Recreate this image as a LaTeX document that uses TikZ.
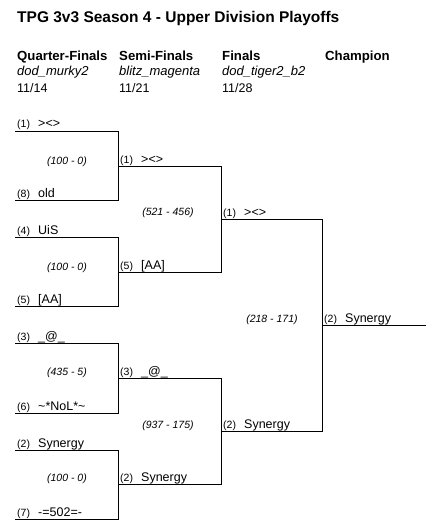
\documentclass[tikz,border=0pt]{standalone}
\usepackage{fontspec}
\setmainfont{Liberation Sans}
\newcommand\bracketentry[5]{%
  \node[seedtxt] (#1s) at (#2+2,#3-3) {(#4)};
  \node[teamtxt] (#1t) at (#2+23,#3-3) {#5};}
\begin{document}
\begin{tikzpicture}[x=1pt,y=-1pt,
  titletxt/.style={anchor=base west,inner sep=0pt,font=\bfseries\fontsize{15.5}{17}\selectfont},
  hdrtxt/.style={anchor=base west,inner sep=0pt,font=\bfseries\fontsize{13.2}{15}\selectfont},
  maptxt/.style={anchor=base west,inner sep=0pt,font=\itshape\fontsize{13}{15}\selectfont},
  datetxt/.style={anchor=base west,inner sep=0pt,font=\fontsize{12.5}{14}\selectfont},
  seedtxt/.style={anchor=base west,inner sep=0pt,font=\fontsize{10.5}{12}\selectfont},
  teamtxt/.style={anchor=base west,inner sep=0pt,font=\fontsize{12.5}{14}\selectfont},
  scoretxt/.style={anchor=center,inner sep=0pt,font=\itshape\fontsize{10.5}{12}\selectfont},
  bline/.style={draw=black,line width=1pt}]
\useasboundingbox (0,0) rectangle (446,524);

% header
\node[titletxt] (title) at (17,23) {TPG 3v3 Season 4 - Upper Division Playoffs};
\node[hdrtxt] (h1) at (17,61) {Quarter-Finals};
\node[hdrtxt] (h2) at (119,61) {Semi-Finals};
\node[hdrtxt] (h3) at (222,61) {Finals};
\node[hdrtxt] (h4) at (325,61) {Champion};
\node[maptxt] (m1) at (17,76) {dod\_murky2};
\node[maptxt] (m2) at (119,76) {blitz\_magenta};
\node[maptxt] (m3) at (222,76) {dod\_tiger2\_b2};
\node[datetxt] (d1) at (17,93) {11/14};
\node[datetxt] (d2) at (119,93) {11/21};
\node[datetxt] (d3) at (222,93) {11/28};

% coordinates of lines
\foreach \n/\y in {1/131,2/200,3/237,4/306,5/343,6/413,7/450,8/519}{
  \coordinate (q\n l) at (15,\y); \coordinate (q\n r) at (118,\y);}
\foreach \n/\y in {1/166,2/272,3/378,4/484}{
  \coordinate (s\n l) at (118,\y); \coordinate (s\n r) at (221,\y);}
\foreach \n/\y in {1/219,2/431}{
  \coordinate (f\n l) at (221,\y); \coordinate (f\n r) at (322,\y);}
\coordinate (cl) at (322,325); \coordinate (cr) at (426,325);

% bracket lines
\draw[bline] (q1l) -- (q1r) -- (q2r) -- (q2l);
\draw[bline] (q3l) -- (q3r) -- (q4r) -- (q4l);
\draw[bline] (q5l) -- (q5r) -- (q6r) -- (q6l);
\draw[bline] (q7l) -- (q7r) -- (q8r) -- (q8l);
\draw[bline] (s1l) -- (s1r) -- (s2r) -- (s2l);
\draw[bline] (s3l) -- (s3r) -- (s4r) -- (s4l);
\draw[bline] (f1l) -- (f1r) -- (f2r) -- (f2l);
\draw[bline] (cl) -- (cr);

% entries
\bracketentry{qa}{15}{131}{1}{><>}
\bracketentry{qb}{15}{200}{8}{old}
\bracketentry{qc}{15}{237}{4}{UiS}
\bracketentry{qd}{15}{306}{5}{[AA]}
\bracketentry{qe}{15}{343}{3}{\_@\_}
\bracketentry{qf}{15}{413}{6}{\textasciitilde*NoL*\textasciitilde}
\bracketentry{qg}{15}{450}{2}{Synergy}
\bracketentry{qh}{15}{519}{7}{-=502=-}
\bracketentry{sa}{118}{166}{1}{><>}
\bracketentry{sb}{118}{272}{5}{[AA]}
\bracketentry{sc}{118}{378}{3}{\_@\_}
\bracketentry{sd}{118}{484}{2}{Synergy}
\bracketentry{fa}{221}{219}{1}{><>}
\bracketentry{fb}{221}{431}{2}{Synergy}
\bracketentry{ca}{322}{325}{2}{Synergy}

% scores
\node[scoretxt] (sc1) at (67,162) {(100 - 0)};
\node[scoretxt] (sc2) at (67,268) {(100 - 0)};
\node[scoretxt] (sc3) at (67,373) {(435 - 5)};
\node[scoretxt] (sc4) at (67,479) {(100 - 0)};
\node[scoretxt] (sc5) at (168,213) {(521 - 456)};
\node[scoretxt] (sc6) at (168,426) {(937 - 175)};
\node[scoretxt] (sc7) at (272,320) {(218 - 171)};
\end{tikzpicture}
\end{document}
